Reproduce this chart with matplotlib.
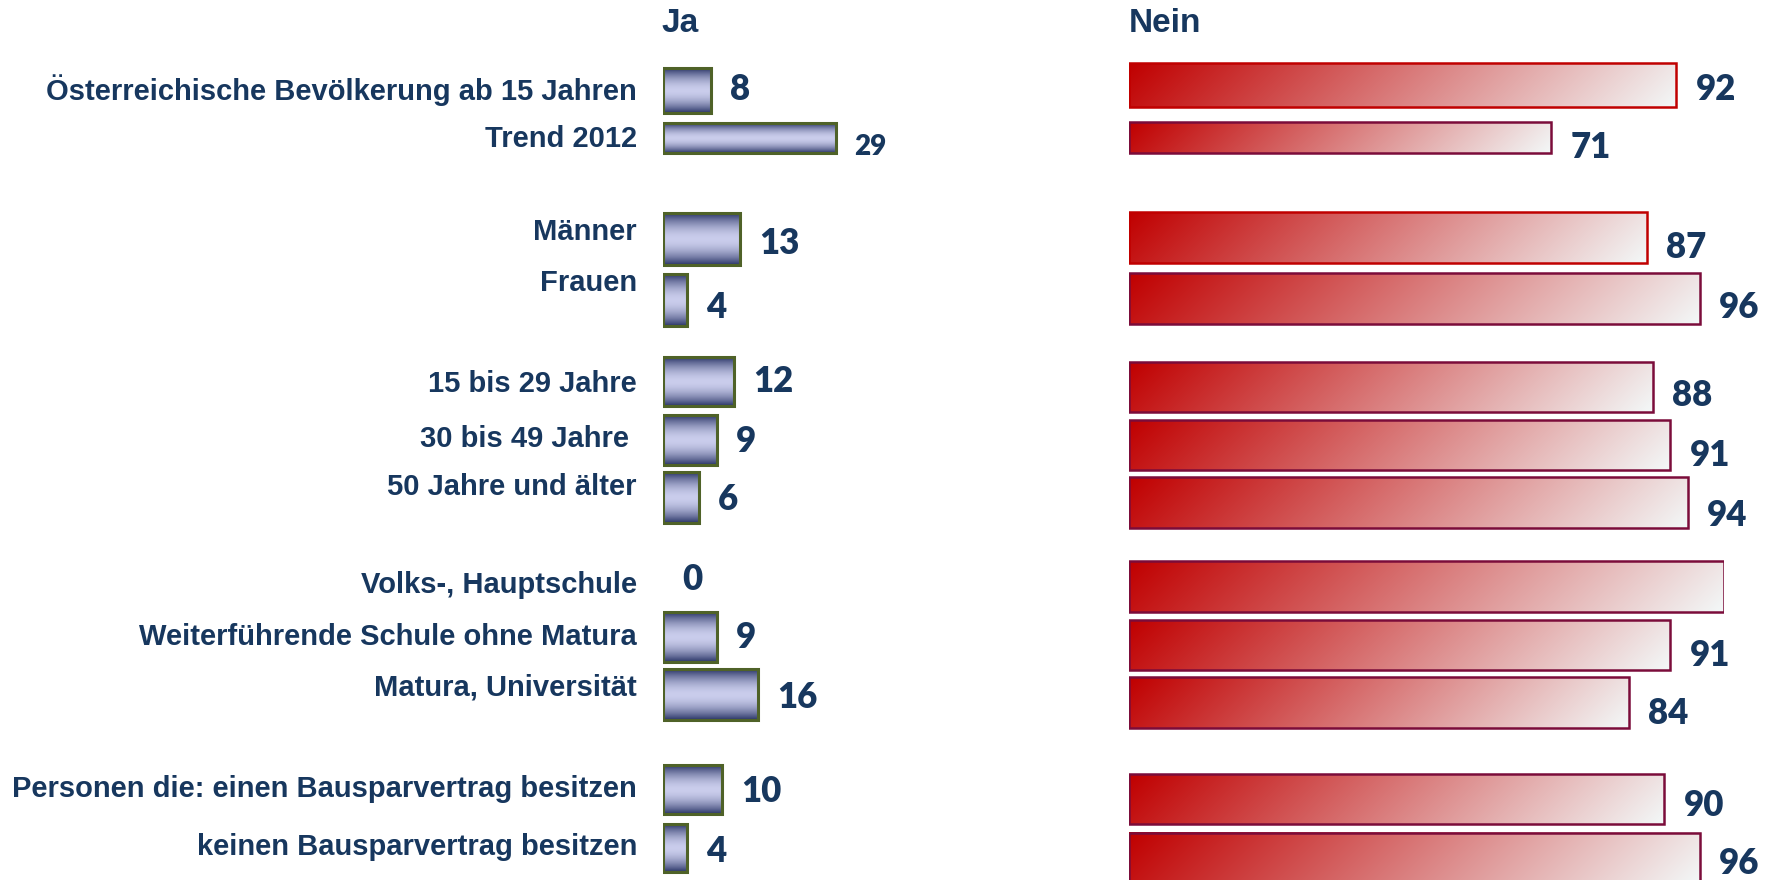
"""Ja/Nein comparison bars with gradient fills."""

import numpy as np
import matplotlib.pyplot as plt

# data
categories = [
    "Österreichische Bevölkerung ab 15 Jahren",
    "Trend 2012",
    "Männer",
    "Frauen",
    "15 bis 29 Jahre",
    "30 bis 49 Jahre ",
    "50 Jahre und älter",
    "Volks-, Hauptschule",
    "Weiterführende Schule ohne Matura",
    "Matura, Universität",
    "Personen die: einen Bausparvertrag besitzen",
    "keinen Bausparvertrag besitzen",
]
ja_values = [8, 29, 13, 4, 12, 9, 6, 0, 9, 16, 10, 4]
nein_values = [92, 71, 87, 96, 88, 91, 94, 100, 91, 84, 90, 96]
nein_shown = [True] * 7 + [False] + [True] * 4

# layout (figure pixels, y measured from top)
W, H = 1774, 880
PX_PER_UNIT = 5.95
JA_X0, NEIN_X0 = 663, 1129
label_y = [90, 139, 232, 283, 384, 439, 487, 585, 637, 687, 789, 847]
ja_center = [90.5, 138, 239, 300, 382, 440, 498, 587, 637, 695, 790, 848]
ja_height = [45, 30, 52, 52, 49, 50, 51, 50, 50, 51, 49, 48]
ja_text_y = [90, 147, 244, 308, 382, 441, 500, 579, 637, 697, 792, 851]
ja_text_size = [25, 20, 25, 25, 25, 25, 25, 25, 25, 25, 25, 25]
nein_center = [85, 138, 238, 299, 387, 445, 503, 587, 645, 703, 799, 858]
nein_height = [44, 31, 51, 51, 50, 50, 51, 51, 50, 51, 50, 50]
nein_text_y = [90, 148, 248, 308, 396, 455, 516, 587, 655, 714, 806, 863]
nein_edge = ["#C00000", "#7B0C3A", "#C00000"] + ["#7B0C3A"] * 9

NAVY = "#17375E"
LABEL_FONT = ["Liberation Sans", "DejaVu Sans"]
VALUE_FONT = ["Lato", "DejaVu Sans"]

fig = plt.figure(figsize=(W / 100, H / 100), dpi=100)

ja_units = 40
ax_ja = fig.add_axes([JA_X0 / W, 0, ja_units * PX_PER_UNIT / W, 1])
ax_nein = fig.add_axes([NEIN_X0 / W, 0, 100 * PX_PER_UNIT / W, 1])
for ax in (ax_ja, ax_nein):
    ax.set_axis_off()
    ax.patch.set_alpha(0)


def ja_gradient():
    v = np.linspace(0, 1, 60)[:, None]
    dark = np.array([44, 55, 105]) / 255
    light = np.array([202, 205, 236]) / 255
    w = np.abs(2 * v - 1) ** 1.8
    col = light * (1 - w) + dark * w
    return np.repeat(col[:, None, :], 2, axis=1).reshape(60, 2, 3)


def nein_gradient(wpx, hpx):
    nu, nv = 200, 30
    u = np.linspace(0, 1, nu)[None, :]
    v = np.linspace(0, 1, nv)[:, None]
    t = (u * wpx + v * hpx) / (wpx + hpx)
    start = np.array([192, 0, 0]) / 255
    end = np.array([243, 248, 248]) / 255
    return start * (1 - t[..., None]) + end * t[..., None]


# Ja bars
bars = ax_ja.barh(ja_center, ja_values, height=ja_height, left=0,
                  facecolor="none", edgecolor="#4F6228", linewidth=2.2, zorder=3)
grad = ja_gradient()
for bar in bars:
    if bar.get_width() <= 0:
        bar.set_visible(False)
        continue
    x0, y0 = bar.get_x(), bar.get_y()
    ax_ja.imshow(grad, extent=(x0, x0 + bar.get_width(), y0 + bar.get_height(), y0),
                 origin="upper", aspect="auto", interpolation="bilinear", zorder=2)

for val, ty, fs in zip(ja_values, ja_text_y, ja_text_size):
    ax_ja.annotate(str(val), xy=(val, ty), xytext=(19, 0), textcoords="offset pixels",
                   ha="left", va="center", fontsize=fs, fontweight="heavy",
                   color=NAVY, family=VALUE_FONT, annotation_clip=False)

for cat, ly in zip(categories, label_y):
    ax_ja.annotate(cat, xy=(0, ly), xytext=(-26, 0), textcoords="offset pixels",
                   ha="right", va="center", fontsize=21, fontweight="bold",
                   color=NAVY, family=LABEL_FONT, annotation_clip=False)

# Nein bars
bars = ax_nein.barh(nein_center, nein_values, height=nein_height, left=0,
                    facecolor="none", edgecolor=nein_edge, linewidth=1.8, zorder=3)
for bar in bars:
    x0, y0 = bar.get_x(), bar.get_y()
    wpx = bar.get_width() * PX_PER_UNIT
    ax_nein.imshow(nein_gradient(wpx, bar.get_height()),
                   extent=(x0, x0 + bar.get_width(), y0 + bar.get_height(), y0),
                   origin="upper", aspect="auto", interpolation="bilinear", zorder=2)

for val, ty, shown in zip(nein_values, nein_text_y, nein_shown):
    if not shown:
        continue
    ax_nein.annotate(str(val), xy=(val, ty), xytext=(19, 0), textcoords="offset pixels",
                     ha="left", va="center", fontsize=25, fontweight="heavy",
                     color=NAVY, family=VALUE_FONT, annotation_clip=False)

# column headers
ax_ja.annotate("Ja", xy=(0, 23), xytext=(-2, 0), textcoords="offset pixels",
               ha="left", va="center", fontsize=24, fontweight="bold",
               color=NAVY, family=LABEL_FONT, annotation_clip=False)
ax_nein.annotate("Nein", xy=(0, 23), xytext=(0, 0), textcoords="offset pixels",
                 ha="left", va="center", fontsize=24, fontweight="bold",
                 color=NAVY, family=LABEL_FONT, annotation_clip=False)

for ax, xmax in ((ax_ja, ja_units), (ax_nein, 100)):
    ax.set_xlim(0, xmax)
    ax.set_ylim(H, 0)

fig.savefig("out.png", dpi=100, facecolor="white")
plt.close(fig)
